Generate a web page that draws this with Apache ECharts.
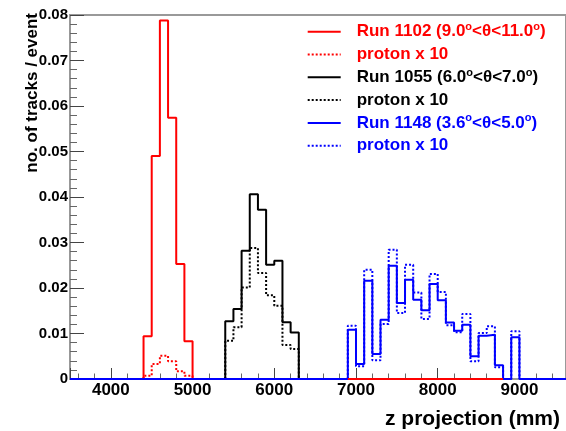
<!DOCTYPE html>
<html>
<head>
<meta charset="utf-8">
<script src="https://cdn.jsdelivr.net/npm/echarts@6/dist/echarts.min.js"></script>
<style>html,body{margin:0;padding:0;background:#fff}#c{width:566px;height:431px}</style>
</head>
<body>
<div id="c"></div>
<script>
// ---- data ----
const binWidth = 100; // mm
const redStart = 4400;
const redRun = [0.0094, 0.0490, 0.0788, 0.0574, 0.0253, 0.0083];
const redProton = [0.0007, 0.0033, 0.0051, 0.0039, 0.0017, 0.0007];
const blackStart = 5400;
const blackRun = [0.0127, 0.0154, 0.0282, 0.0406, 0.0372, 0.0251, 0.0260, 0.0125, 0.0102];
const blackProton = [0.0084, 0.0114, 0.0201, 0.0288, 0.0233, 0.0184, 0.0161, 0.0075, 0.0066];
const blueStart = 6900;
const blueRun = [0.0108, 0.0033, 0.0216, 0.0055, 0.0130, 0.0249, 0.0167, 0.0218, 0.0174, 0.0151, 0.0209,
                 0.0173, 0.0124, 0.0106, 0.0119, 0.0050, 0.0095, 0.0097, 0.0030, 0, 0.0092];
const blueProton = [0.0117, 0.0028, 0.0240, 0.0041, 0.0121, 0.0284, 0.0145, 0.0251, 0.0190, 0.0132, 0.0231,
                    0.0191, 0.0118, 0.0103, 0.0143, 0.0039, 0.0101, 0.0116, 0.0026, 0, 0.0105];
const redBaseline = [6900, 8800];
const xRange = [3500, 9570];
const yRange = [0, 0.08];
const yTickLabels = ['0', '0.01', '0.02', '0.03', '0.04', '0.05', '0.06', '0.07', '0.08'];
const seriesIds = ['run1102', 'proton1102', 'run1055', 'proton1055', 'run1148', 'proton1148'];
const legendLabels = ['Run 1102 (9.0°<θ<11.0°)', 'proton x 10', 'Run 1055 (6.0°<θ<7.0°)', 'proton x 10',
                      'Run 1148 (3.6°<θ<5.0°)', 'proton x 10'];
const xTitle = 'z projection (mm)';
const yTitle = 'no. of tracks / event';

// ---- build ----
const F = '"Liberation Sans", Arial, Helvetica, sans-serif';
const RED = '#ff0000', BLACK = '#000000', BLUE = '#0000ff';
const colors = [RED, RED, BLACK, BLACK, BLUE, BLUE];
const supKey = ['sR', 'sR', 'sK', 'sK', 'sB', 'sB'];

function hist(start, vals, extend) {
  const pts = [];
  if (extend) pts.push([xRange[0], 0]);
  pts.push([start, 0]);
  vals.forEach((v, i) => {
    const x0 = start + i * binWidth;
    pts.push([x0, v]);
    pts.push([x0 + binWidth, v]);
  });
  pts.push([start + vals.length * binWidth, 0]);
  if (extend) pts.push([xRange[1], 0]);
  return pts;
}

const dataSets = [
  hist(redStart, redRun), hist(redStart, redProton),
  hist(blackStart, blackRun), hist(blackStart, blackProton),
  hist(blueStart, blueRun, true), hist(blueStart, blueProton)
];

const series = seriesIds.map((id, i) => ({
  name: id,
  type: 'line',
  data: dataSets[i],
  symbol: 'none',
  showSymbol: false,
  animation: false,
  silent: true,
  z: 3 + i,
  lineStyle: {color: colors[i], width: 2, type: (i % 2 === 1) ? [2, 2] : 'solid'},
  itemStyle: {color: colors[i]}
}));
series.push({
  name: 'redBase', type: 'line', symbol: 'none', animation: false, silent: true, z: 10,
  data: [[redBaseline[0], 0], [redBaseline[1], 0]],
  lineStyle: {color: RED, width: 2}
});

function supColor(c) { return {color: c, fontSize: 11, fontWeight: 'bold', fontFamily: F, verticalAlign: 'top', lineHeight: 11}; }

const chart = echarts.init(document.getElementById('c'), null, {renderer: 'canvas'});
chart.setOption({
  animation: false,
  backgroundColor: '#fff',
  grid: {left: 70, top: 15, right: 0, bottom: 52, show: true, borderColor: '#999', borderWidth: 2,
         containLabel: false, outerBoundsMode: 'none'},
  legend: {
    orient: 'vertical', left: 306.7, top: 21.7, padding: 0, itemGap: 2.8,
    itemWidth: 33, itemHeight: 14,
    itemStyle: {opacity: 0, borderWidth: 0},
    data: seriesIds.map((id, i) => ({name: id, textStyle: {color: colors[i]}})),
    formatter: function (name) {
      const i = seriesIds.indexOf(name);
      return legendLabels[i].replace(/°/g, '{' + supKey[i] + '|o}');
    },
    textStyle: {
      fontFamily: F, fontSize: 17, fontWeight: 'bold', lineHeight: 20, padding: [0, 0, 0, 11],
      rich: {sR: supColor(RED), sK: supColor(BLACK), sB: supColor(BLUE)}
    }
  },
  xAxis: {
    type: 'value', min: xRange[0], max: xRange[1], splitNumber: 5,
    axisLine: {show: true, onZero: false, lineStyle: {color: '#999', width: 1}},
    axisTick: {show: true, inside: true, length: 11, lineStyle: {color: '#444'}},
    minorTick: {show: true, splitNumber: 5, length: 5.5, lineStyle: {color: '#666'}},
    splitLine: {show: false},
    axisLabel: {show: true, showMinLabel: false, showMaxLabel: false, margin: 3, color: '#000',
                fontSize: 17, fontWeight: 'bold', fontFamily: F, formatter: v => String(v)},
    name: xTitle, nameLocation: 'end', nameGap: -6, nameMoveOverlap: false,
    nameTextStyle: {color: '#000', fontSize: 21, fontWeight: 'bold', fontFamily: F,
                    align: 'right', verticalAlign: 'top', padding: [30, 0, 0, 0]}
  },
  yAxis: {
    type: 'value', min: yRange[0], max: yRange[1], interval: 0.01,
    axisLine: {show: true, lineStyle: {color: '#999', width: 1.5}},
    axisTick: {show: true, inside: true, length: 14, lineStyle: {color: '#444'}},
    minorTick: {show: true, splitNumber: 5, length: 7, lineStyle: {color: '#666'}},
    splitLine: {show: false},
    axisLabel: {margin: 2, color: '#000', fontSize: 15, fontWeight: 'bold', fontFamily: F,
                formatter: v => yTickLabels[Math.round(v * 100)]},
    name: yTitle, nameLocation: 'end', nameRotate: 90, nameGap: 2, nameMoveOverlap: false,
    nameTextStyle: {color: '#000', fontSize: 17, fontWeight: 'bold', fontFamily: F,
                    align: 'right', verticalAlign: 'bottom', padding: [0, 0, 29, 0]}
  },
  series: series
});
</script>
</body>
</html>
